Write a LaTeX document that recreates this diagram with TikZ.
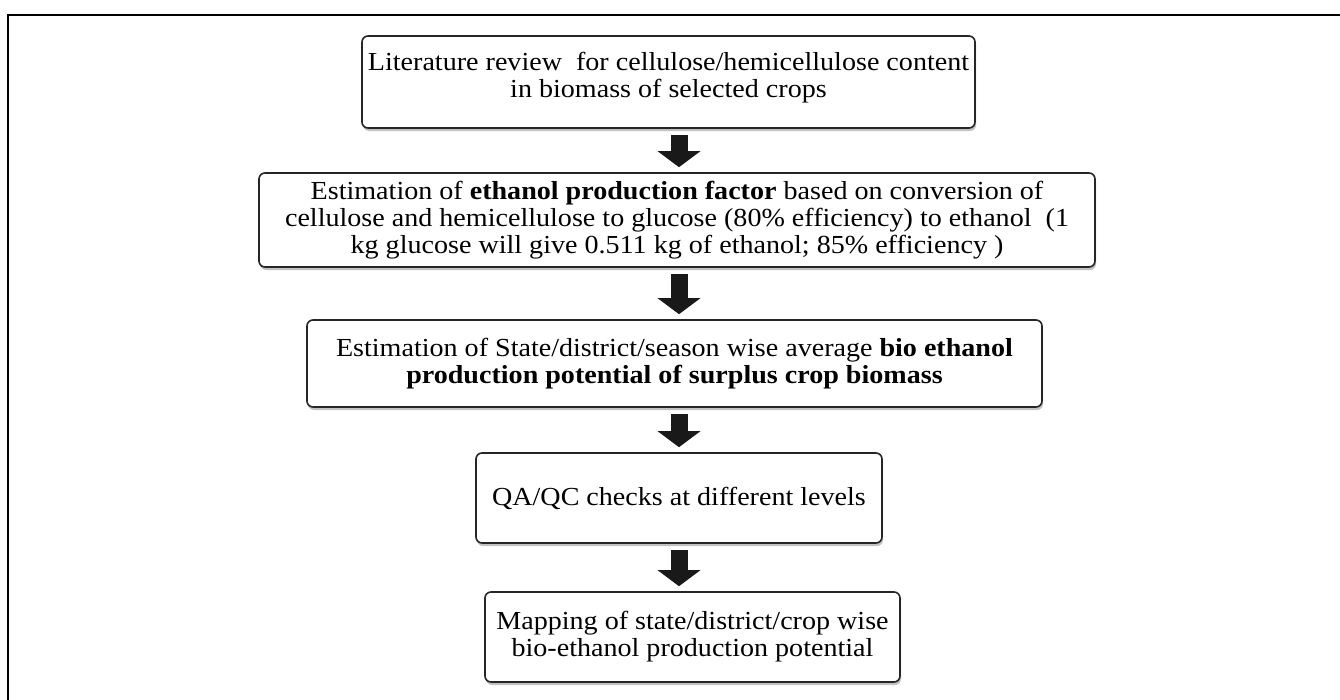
\documentclass[tikz,border=0pt]{standalone}
\usepackage{fontspec}
\setmainfont[FakeStretch=1.08]{Liberation Serif}
\usetikzlibrary{arrows.meta,shadows}
\begin{document}
\begin{tikzpicture}[x=1pt,y=-1pt,
  flowbox/.style={draw=black!85, line width=1.6pt, rounded corners=6pt, fill=white,
    align=center, inner sep=0pt, font=\fontsize{26}{27}\selectfont,
    drop shadow={shadow xshift=1pt, shadow yshift=-3pt, fill=black!40, opacity=0.6}},
  bigarrow/.style={line width=17pt, black!90, -{Triangle[width=42pt,length=16pt]}, shorten <=6pt, shorten >=5pt}]
\useasboundingbox (0,0) rectangle (1340,699);
\draw[line width=2pt, black] (8,15) rectangle (1350,710);
\node[flowbox, minimum width=613pt, minimum height=92pt] (b1) at (668.5,82)
  {Literature review\ \ for cellulose/hemicellulose content\\in biomass of selected crops\\[-13pt]};
\node[flowbox, minimum width=836pt, minimum height=94pt] (b2) at (677,220)
  {Estimation of \textbf{ethanol production factor} based on conversion of\\
   cellulose and hemicellulose to glucose (80\% efficiency) to ethanol\ \ (1\\
   kg glucose will give 0.511 kg of ethanol; 85\% efficiency )};
\node[flowbox, minimum width=735pt, minimum height=87pt] (b3) at (674.5,363.5)
  {Estimation of State/district/season wise average \textbf{bio ethanol}\\
   \textbf{production potential of surplus crop biomass}};
\node[flowbox, minimum width=406pt, minimum height=90pt] (b4) at (679,498)
  {QA/QC checks at different levels};
\node[flowbox, minimum width=415pt, minimum height=90pt] (b5) at (692.5,637)
  {Mapping of state/district/crop wise\\bio-ethanol production potential};
\coordinate (ax) at (679,0);
\draw[bigarrow] (b1.south -| ax) -- (b2.north -| ax);
\draw[bigarrow] (b2.south -| ax) -- (b3.north -| ax);
\draw[bigarrow] (b3.south -| ax) -- (b4.north -| ax);
\draw[bigarrow] (b4.south -| ax) -- (b5.north -| ax);
\end{tikzpicture}
\end{document}
